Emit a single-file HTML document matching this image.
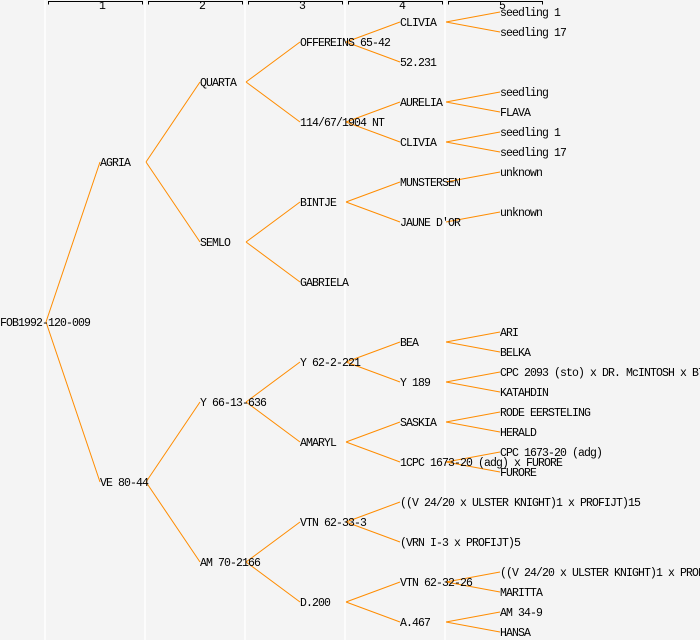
<!DOCTYPE html>
<html><head><style>html,body{margin:0;padding:0;background:#f4f4f4}svg{display:block}text{font-family:"Liberation Mono",monospace;font-size:11.5px;letter-spacing:-0.9px;fill:#000}</style></head><body>
<svg width="700" height="640" xmlns="http://www.w3.org/2000/svg">
<rect width="700" height="640" fill="#f4f4f4"/>
<g stroke="#fff" stroke-width="1.5">
<line x1="45" y1="0" x2="45" y2="640"/><line x1="145" y1="0" x2="145" y2="640"/><line x1="245" y1="0" x2="245" y2="640"/><line x1="345" y1="0" x2="345" y2="640"/><line x1="445" y1="0" x2="445" y2="640"/>
</g>
<g stroke="#000" fill="none" stroke-width="1">
<path d="M48.5 4.5V1.5H142.5V4.5"/><path d="M148.5 4.5V1.5H242.5V4.5"/><path d="M248.5 4.5V1.5H342.5V4.5"/><path d="M348.5 4.5V1.5H442.5V4.5"/><path d="M448.5 4.5V1.5H542.5V4.5"/>
</g>
<g style="font-size:8px;letter-spacing:0" text-anchor="middle">
<text x="102" y="9">1</text><text x="202" y="9">2</text><text x="302" y="9">3</text><text x="402" y="9">4</text><text x="502" y="9">5</text>
</g>
<g stroke="#ff8c00" stroke-width="1" fill="none">
<path d="M46 322L100 162M46 322L100 482"/>
<path d="M146 162L200 82M146 162L200 242M146 482L200 402M146 482L200 562"/>
<path d="M246 82L300 42M246 82L300 122M246 242L300 202M246 242L300 282M246 402L300 362M246 402L300 442M246 562L300 522M246 562L300 602"/>
<path d="M346 42L400 22M346 42L400 62M346 122L400 102M346 122L400 142M346 202L400 182M346 202L400 222M346 362L400 342M346 362L400 382M346 442L400 422M346 442L400 462M346 522L400 502M346 522L400 542M346 602L400 582M346 602L400 622"/>
<path d="M446 22L500 12M446 22L500 32M446 102L500 92M446 102L500 112M446 142L500 132M446 142L500 152M446 182L500 172M446 222L500 212M446 342L500 332M446 342L500 352M446 382L500 372M446 382L500 392M446 422L500 412M446 422L500 432M446 462L500 452M446 462L500 472M446 582L500 572M446 582L500 592M446 622L500 612M446 622L500 632"/>
</g>
<g>
<text x="0" y="326">FOB1992-120-009</text>
<text x="100" y="166">AGRIA</text><text x="100" y="486">VE 80-44</text>
<text x="200" y="86">QUARTA</text><text x="200" y="246">SEMLO</text><text x="200" y="406">Y 66-13-636</text><text x="200" y="566">AM 70-2166</text>
<text x="300" y="46">OFFEREINS 65-42</text><text x="300" y="126">114/67/1904 NT</text><text x="300" y="206">BINTJE</text><text x="300" y="286">GABRIELA</text><text x="300" y="366">Y 62-2-221</text><text x="300" y="446">AMARYL</text><text x="300" y="526">VTN 62-33-3</text><text x="300" y="606">D.200</text>
<text x="400" y="26">CLIVIA</text><text x="400" y="66">52.231</text><text x="400" y="106">AURELIA</text><text x="400" y="146">CLIVIA</text><text x="400" y="186">MUNSTERSEN</text><text x="400" y="226">JAUNE D'OR</text><text x="400" y="346">BEA</text><text x="400" y="386">Y 189</text><text x="400" y="426">SASKIA</text><text x="400" y="466">1CPC 1673-20 (adg) x FURORE</text><text x="400" y="506">((V 24/20 x ULSTER KNIGHT)1 x PROFIJT)15</text><text x="400" y="546">(VRN I-3 x PROFIJT)5</text><text x="400" y="586">VTN 62-32-26</text><text x="400" y="626">A.467</text>
<text x="500" y="16">seedling 1</text><text x="500" y="36">seedling 17</text><text x="500" y="96">seedling</text><text x="500" y="116">FLAVA</text><text x="500" y="136">seedling 1</text><text x="500" y="156">seedling 17</text><text x="500" y="176">unknown</text><text x="500" y="216">unknown</text><text x="500" y="336">ARI</text><text x="500" y="356">BELKA</text><text x="500" y="376">CPC 2093 (sto) x DR. McINTOSH x B7</text><text x="500" y="396">KATAHDIN</text><text x="500" y="416">RODE EERSTELING</text><text x="500" y="436">HERALD</text><text x="500" y="456">CPC 1673-20 (adg)</text><text x="500" y="476">FURORE</text><text x="500" y="576">((V 24/20 x ULSTER KNIGHT)1 x PROFIJT)</text><text x="500" y="596">MARITTA</text><text x="500" y="616">AM 34-9</text><text x="500" y="636">HANSA</text>
</g>
</svg>
</body></html>
